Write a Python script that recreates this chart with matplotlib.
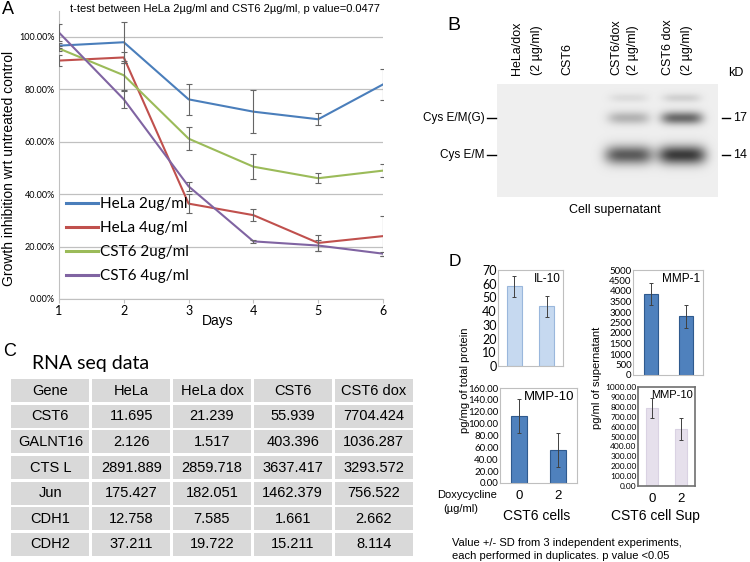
import matplotlib
matplotlib.use("Agg")
import matplotlib.pyplot as plt
import numpy as np
from matplotlib.lines import Line2D
from matplotlib.patches import Rectangle

plt.rcParams["font.family"] = ["Liberation Sans", "DejaVu Sans"]
CAL = ["Lato", "DejaVu Sans"]   # stand-in for the Calibri text of the original

W, H = 750, 562

# ------------------------------------------------------------ panel A data ---
days = [1, 2, 3, 4, 5, 6]
hela_2 = [0.967, 0.980, 0.762, 0.715, 0.686, 0.819]
hela_2_err = [0.010, 0.078, 0.058, 0.083, 0.023, 0.058]
hela_4 = [0.910, 0.922, 0.364, 0.320, 0.214, 0.240]
hela_4_err = [0.020, 0.020, 0.035, 0.024, 0.032, 0.077]
cst6_2 = [0.956, 0.854, 0.612, 0.505, 0.461, 0.490]
cst6_2_err = [0.010, 0.055, 0.043, 0.047, 0.019, 0.025]
cst6_4 = [1.017, 0.762, 0.430, 0.220, 0.204, 0.173]
cst6_4_err = [0.033, 0.032, 0.016, 0.006, 0.020, 0.008]
series_labels = ["HeLa 2ug/ml", "HeLa 4ug/ml", "CST6 2ug/ml", "CST6 4ug/ml"]
series_colors = ["#4a7ebb", "#c0504d", "#9bbb59", "#8064a2"]

# ------------------------------------------------------------ panel B data ---
lane_names = [("HeLa/dox", "(2 µg/ml)"), ("CST6", None),
              ("CST6/dox", "(2 µg/ml)"), ("CST6 dox", "(2 µg/ml)")]
band_names = ["", "Cys E/M(G)", "Cys E/M"]
band_kd = ["", "17", "14"]
# relative band darkness per lane: [upper smear, 17 kD, 14 kD]
band_signal = [[0.0, 0.0, 0.0],
               [0.0, 0.0, 0.0],
               [0.10, 0.32, 0.80],
               [0.16, 0.72, 0.98]]

# ------------------------------------------------------------ panel C data ---
rna_header = ["Gene", "HeLa", "HeLa dox", "CST6", "CST6 dox"]
genes = ["CST6", "GALNT16", "CTS L", "Jun", "CDH1", "CDH2"]
rna_hela = [11.695, 2.126, 2891.889, 175.427, 12.758, 37.211]
rna_hela_dox = [21.239, 1.517, 2859.718, 182.051, 7.585, 19.722]
rna_cst6 = [55.939, 403.396, 3637.417, 1462.379, 1.661, 15.211]
rna_cst6_dox = [7704.424, 1036.287, 3293.572, 756.522, 2.662, 8.114]

# ------------------------------------------------------------ panel D data ---
dox = ["0", "2"]
il10 = [58.0, 43.5]
il10_sd = [7.5, 7.5]
mmp1 = [3850, 2800]
mmp1_sd = [520, 550]
mmp10_cells = [113.0, 56.0]
mmp10_cells_sd = [29.0, 29.0]
mmp10_sup = [785.0, 575.0]
mmp10_sup_sd = [100.0, 110.0]

fig = plt.figure(figsize=(W / 100, H / 100), dpi=100)
fig.patch.set_facecolor("white")


def ax_px(l, t, r, b):
    return fig.add_axes([l / W, 1 - b / H, (r - l) / W, (b - t) / H])


def txt(x, y, s, **kw):
    return fig.text(x / W, 1 - y / H, s, **kw)


def hline(x0, x1, y, **kw):
    fig.add_artist(Line2D([x0 / W, x1 / W], [1 - y / H, 1 - y / H],
                          transform=fig.transFigure, **kw))


# =============================================================== panel A ====
axA = ax_px(59, 10.8, 383, 299)
allvals = [(hela_2, hela_2_err), (hela_4, hela_4_err),
           (cst6_2, cst6_2_err), (cst6_4, cst6_4_err)]
for (v, e), c in zip(allvals, series_colors):
    axA.plot(days, v, color=c, lw=1.5, zorder=3)
    axA.errorbar(days, v, yerr=e, fmt="none", ecolor="#666666",
                 elinewidth=0.8, capsize=2, capthick=0.8, zorder=4)
axA.set_xlim(1, 6)
axA.set_ylim(0, 1.1)
yt = [0, 0.2, 0.4, 0.6, 0.8, 1.0]
axA.set_yticks(yt)
axA.set_yticklabels([f"{v * 100:.2f}%" for v in yt], fontsize=6.5, family=CAL)
axA.set_xticks(days)
axA.set_xticklabels([str(d) for d in days], fontsize=9, family=CAL)
axA.grid(axis="y", color="#c0c0c0", lw=0.9)
axA.set_axisbelow(True)
for s in ("top", "right"):
    axA.spines[s].set_visible(False)
for s in ("left", "bottom"):
    axA.spines[s].set_color("#c0c0c0")
axA.tick_params(axis="y", length=0, pad=3)
axA.tick_params(axis="x", length=3, color="#c0c0c0", pad=1)
handles = [Line2D([], [], color=c, lw=2.2) for c in series_colors]
axA.legend(handles, series_labels, loc="upper left",
           bbox_to_anchor=(66 / W, 1 - 197 / H), bbox_transform=fig.transFigure,
           frameon=False, prop={"family": CAL, "size": 11}, handlelength=2.1,
           handletextpad=0.1, labelspacing=0.66, borderpad=0, borderaxespad=0)
txt(2, 1, "A", ha="left", va="top", fontsize=13)
txt(70, 9, "t-test between HeLa 2µg/ml and CST6 2µg/ml, p value=0.0477",
    ha="left", va="center", fontsize=8)
txt(9, 168, "Growth inhibition wrt untreated control", rotation=90,
    ha="center", va="center", fontsize=10)
txt(218, 321, "Days", ha="center", va="center", fontsize=10)

# =============================================================== panel B ====
BL, BT, BR, BB = 497, 84, 718, 197
lane_x = [527, 567, 629, 682]
band_y = [98, 118, 155]
band_hh = [4.5, 6.5, 9.5]
band_hw = [19, 21, 24]
xs = np.arange(BL, BR) + 0.5
ys = np.arange(BT, BB) + 0.5
X, Y = np.meshgrid(xs, ys)
dens = np.zeros_like(X)
for li, cx in enumerate(lane_x):
    for bi, cy in enumerate(band_y):
        s = band_signal[li][bi]
        if s <= 0:
            continue
        dens += s * np.exp(-np.abs((X - cx) / band_hw[bi]) ** 4) \
            * np.exp(-((Y - cy) / band_hh[bi]) ** 2)
img = np.clip(0.935 - 0.72 * dens, 0, 1)
axB = ax_px(BL, BT, BR, BB)
axB.imshow(img, cmap="gray", vmin=0, vmax=1, extent=(BL, BR, BB, BT),
           interpolation="bilinear", aspect="auto")
axB.axis("off")

lab_x = [(517, 537), (567, None), (616, 633), (668, 687)]
for (l1, l2), (x1, x2) in zip(lane_names, lab_x):
    txt(x1, 75, l1, rotation=90, ha="center", va="bottom", fontsize=9)
    if l2:
        txt(x2, 75, l2, rotation=90, ha="center", va="bottom", fontsize=9)
for name, kd, y in zip(band_names, band_kd, band_y):
    if not name:
        continue
    txt(485, y, name, ha="right", va="center", fontsize=8.5)
    hline(487, 496, y, color="black", lw=1)
    hline(722, 730, y, color="black", lw=1)
    txt(733, y, kd, ha="left", va="center", fontsize=9)
txt(736, 73, "kD", ha="center", va="center", fontsize=9)
txt(615, 210, "Cell supernatant", ha="center", va="center", fontsize=9)
txt(447, 26, "B", ha="left", va="center", fontsize=14)

# =============================================================== panel C ====
txt(3, 352, "C", ha="left", va="center", fontsize=13)
txt(32, 369, "RNA seq data", ha="left", va="baseline", fontsize=14, family=CAL)
axC = ax_px(10, 378, 414, 557)
axC.set_xlim(0, 5)
axC.set_ylim(7, 0)
axC.axis("off")
rows = [rna_header] + [
    [g] + [f"{v:.3f}" for v in vals]
    for g, *vals in zip(genes, rna_hela, rna_hela_dox, rna_cst6, rna_cst6_dox)
]
for r, row in enumerate(rows):
    for c, val in enumerate(row):
        axC.add_patch(Rectangle((c + 0.018, r + 0.05), 0.964, 0.90,
                                facecolor="#d9d9d9", edgecolor="none"))
        axC.text(c + 0.5, r + 0.5, val, ha="center", va="center",
                 fontsize=10.5)

# =============================================================== panel D ====
C_LIGHT, E_LIGHT = "#c6d9f0", "#9ab7dc"
C_DARK, E_DARK = "#4f81bd", "#2f5a8e"
C_LAV, E_LAV = "#e6e0ec", "#dad2e3"


def bar_panel(box, vals, sd, face, edge, ymax, step, fmt, tsize, title,
              tfs, width, xlabels=False, frame="#bfbfbf", flw=0.8):
    ax = ax_px(*box)
    x = np.arange(len(vals))
    ax.bar(x, vals, width=width, color=face, edgecolor=edge, lw=0.8, zorder=2)
    ax.errorbar(x, vals, yerr=sd, fmt="none", ecolor="#404040",
                elinewidth=0.7, capsize=1.5, capthick=0.7, zorder=3)
    ax.set_xlim(-0.5, 1.5)
    ax.set_ylim(0, ymax)
    ticks = np.arange(0, ymax + step / 2, step)
    ax.set_yticks(ticks)
    ax.set_yticklabels([fmt.format(t) for t in ticks], fontsize=tsize,
                       family=CAL)
    ax.tick_params(axis="y", length=0, pad=1)
    ax.set_xticks(x)
    if xlabels:
        ax.set_xticklabels(dox, fontsize=9.5)
        ax.tick_params(axis="x", length=0, pad=5)
    else:
        ax.set_xticklabels([])
        ax.tick_params(axis="x", length=0)
    for s in ax.spines.values():
        s.set_color(frame)
        s.set_linewidth(flw)
    ax.text(0.96, 0.97, title, transform=ax.transAxes, ha="right", va="top",
            fontsize=tfs)
    return ax


bar_panel((498, 270, 563, 366), il10, il10_sd, C_LIGHT, E_LIGHT, 70, 10,
          "{:.0f}", 9, "IL-10", 8.5, 0.46)
bar_panel((633, 270, 703, 375), mmp1, mmp1_sd, C_DARK, E_DARK, 5000, 500,
          "{:.0f}", 7, "MMP-1", 8.5, 0.40)
bar_panel((500, 388, 577, 483), mmp10_cells, mmp10_cells_sd, C_DARK, E_DARK,
          160, 20, "{:.2f}", 7, "MMP-10", 9.5, 0.42, xlabels=True)
bar_panel((638, 387, 695, 486), mmp10_sup, mmp10_sup_sd, C_LAV, E_LAV,
          1000, 100, "{:.2f}", 6, "MMP-10", 8, 0.42, xlabels=True,
          frame="#6f6f6f", flw=1.2)

txt(449, 261, "D", ha="left", va="center", fontsize=12.5)
txt(465, 380, "pg/mg of total protein", rotation=90, ha="center",
    va="center", fontsize=8)
txt(597, 378, "pg/ml of supernatant", rotation=90, ha="center",
    va="center", fontsize=8)
txt(467, 495, "Doxycycline", ha="center", va="center", fontsize=8)
txt(461, 509, "(µg/ml)", ha="center", va="center", fontsize=8)
txt(537, 516, "CST6 cells", ha="center", va="center", fontsize=10)
txt(655, 516, "CST6 cell Sup", ha="center", va="center", fontsize=10)
txt(452, 543, "Value +/- SD from 3 independent experiments,", ha="left",
    va="center", fontsize=8)
txt(452, 556, "each performed in duplicates. p value <0.05", ha="left",
    va="center", fontsize=8)

fig.savefig("out.png", dpi=100)
